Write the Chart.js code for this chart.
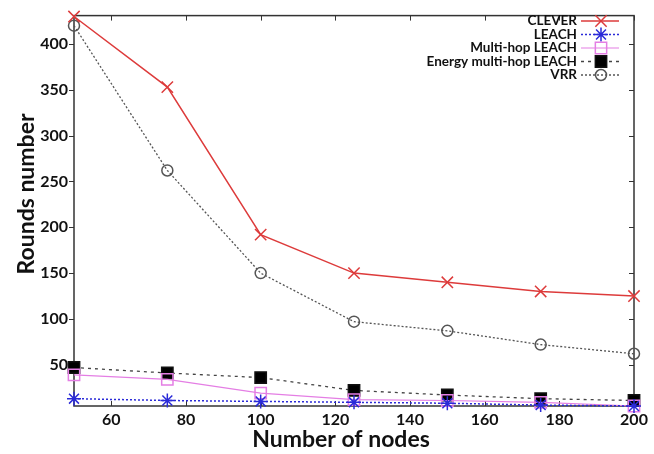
<!DOCTYPE html>
<html>
<head>
<meta charset="utf-8">
<script src="https://cdn.jsdelivr.net/npm/chart.js@4.4.0/dist/chart.umd.min.js"></script>
<style>
  html, body { margin: 0; padding: 0; background: #fff; }
  #wrap { width: 654px; height: 454px; }
</style>
</head>
<body>
<div id="wrap"><canvas id="rounds"></canvas></div>
<script>
const nodes = [50, 75, 100, 125, 150, 175, 200]
const clever = [430, 353, 192, 150, 140, 130, 125]
const leach = [13, 11, 10, 9, 8, 6, 5]
const multiHop = [39, 34, 19, 12, 11, 9, 5]
const energyMultiHop = [47, 41, 36, 22, 17, 13, 11]
const vrr = [420, 262, 150, 97, 87, 72, 62]

const xTicks = [60, 80, 100, 120, 140, 160, 180, 200]
const yTicks = [50, 100, 150, 200, 250, 300, 350, 400]

const FONT = 'Lato, "Open Sans", sans-serif'

const pts = vals => nodes.map((n, i) => ({ x: n, y: vals[i] }))

// frame, inner ticks, axis titles and the legend box
const decor = {
  id: 'decor',
  beforeDatasetsDraw(chart) {
    const { ctx, chartArea: a, scales: { x, y } } = chart
    ctx.save()
    ctx.strokeStyle = '#333'
    ctx.lineWidth = 1.5
    ctx.strokeRect(a.left, a.top, a.right - a.left, a.bottom - a.top)
    ctx.lineWidth = 1
    ctx.beginPath()
    xTicks.forEach(v => {
      const px = Math.round(x.getPixelForValue(v)) + 0.5
      ctx.moveTo(px, a.bottom); ctx.lineTo(px, a.bottom - 5)
      ctx.moveTo(px, a.top); ctx.lineTo(px, a.top + 5)
    })
    yTicks.forEach(v => {
      const py = Math.round(y.getPixelForValue(v)) + 0.5
      ctx.moveTo(a.left, py); ctx.lineTo(a.left - 5, py)
      ctx.moveTo(a.right, py); ctx.lineTo(a.right - 5, py)
    })
    ctx.stroke()
    ctx.restore()
  },
  afterDraw(chart) {
    const { ctx } = chart
    ctx.save()
    ctx.fillStyle = '#111'
    ctx.font = 'bold 23px ' + FONT
    ctx.textAlign = 'center'
    ctx.textBaseline = 'middle'
    ctx.fillText('Number of nodes', 341, 440)
    ctx.translate(27, 194)
    ctx.rotate(-Math.PI / 2)
    ctx.fillText('Rounds number', 0, 0)
    ctx.restore()

    // legend: text right aligned, sample on the right
    ctx.save()
    ctx.font = 'bold 13.5px ' + FONT
    ctx.textAlign = 'right'
    ctx.textBaseline = 'middle'
    chart.data.datasets.forEach((ds, i) => {
      const ly = 21 + i * 13.5
      ctx.fillStyle = '#111'
      ctx.fillText(ds.label, 577, ly)
      ctx.strokeStyle = ds.borderColor
      ctx.lineWidth = ds.borderWidth
      ctx.setLineDash(ds.borderDash || [])
      ctx.beginPath()
      ctx.moveTo(581, ly); ctx.lineTo(619, ly)
      ctx.stroke()
      ctx.setLineDash([])
      ctx.strokeStyle = ds.pointBorderColor
      ctx.fillStyle = ds.pointBackgroundColor
      ctx.lineWidth = ds.pointBorderWidth
      Chart.helpers.drawPoint(ctx, {
        pointStyle: ds.pointStyle, radius: ds.pointRadius,
        borderWidth: ds.pointBorderWidth, rotation: 0
      }, 601, ly)
    })
    ctx.restore()
  }
}

const series = (label, vals, color, opts) => Object.assign({
  label,
  data: pts(vals),
  borderColor: color,
  pointBorderColor: color,
  pointBackgroundColor: 'rgba(0,0,0,0)',
  borderWidth: 1.5,
  pointBorderWidth: 1.5,
  tension: 0,
  clip: false
}, opts)

new Chart(document.getElementById('rounds'), {
  type: 'line',
  data: {
    datasets: [
      series('CLEVER', clever, '#dd3b3b', { pointStyle: 'crossRot', pointRadius: 8 }),
      series('LEACH', leach, '#2a2ad8', { pointStyle: 'star', pointRadius: 7, borderDash: [2, 2] }),
      series('Multi-hop LEACH', multiHop, '#e47ee4', { pointStyle: 'rect', pointRadius: 8, borderWidth: 1.2 }),
      series('Energy multi-hop LEACH', energyMultiHop, '#111', {
        borderColor: '#444', pointStyle: 'rect', pointRadius: 8,
        pointBackgroundColor: '#000', borderDash: [3, 4], borderWidth: 1.3
      }),
      series('VRR', vrr, '#555', { pointStyle: 'circle', pointRadius: 5.5, borderDash: [2, 2], borderWidth: 1.3 })
    ]
  },
  options: {
    responsive: true,
    maintainAspectRatio: false,
    animation: false,
    layout: { padding: { left: 0, right: 20, top: 11, bottom: 0 } },
    plugins: { legend: { display: false }, tooltip: { enabled: false } },
    scales: {
      x: {
        type: 'linear', min: 50, max: 200,
        afterBuildTicks: s => { s.ticks = xTicks.map(v => ({ value: v })) },
        afterFit: s => { s.height = 48 },
        grid: { display: false, drawTicks: false },
        border: { display: false },
        ticks: { color: '#111', padding: 4, maxRotation: 0, font: { family: FONT, size: 16, weight: 'bold' } }
      },
      y: {
        min: 5, max: 431,
        afterBuildTicks: s => { s.ticks = yTicks.map(v => ({ value: v })) },
        afterFit: s => { s.width = 74 },
        grid: { display: false, drawTicks: false },
        border: { display: false },
        ticks: { color: '#111', padding: 6, font: { family: FONT, size: 16, weight: 'bold' } }
      }
    }
  },
  plugins: [decor]
})
</script>
</body>
</html>
